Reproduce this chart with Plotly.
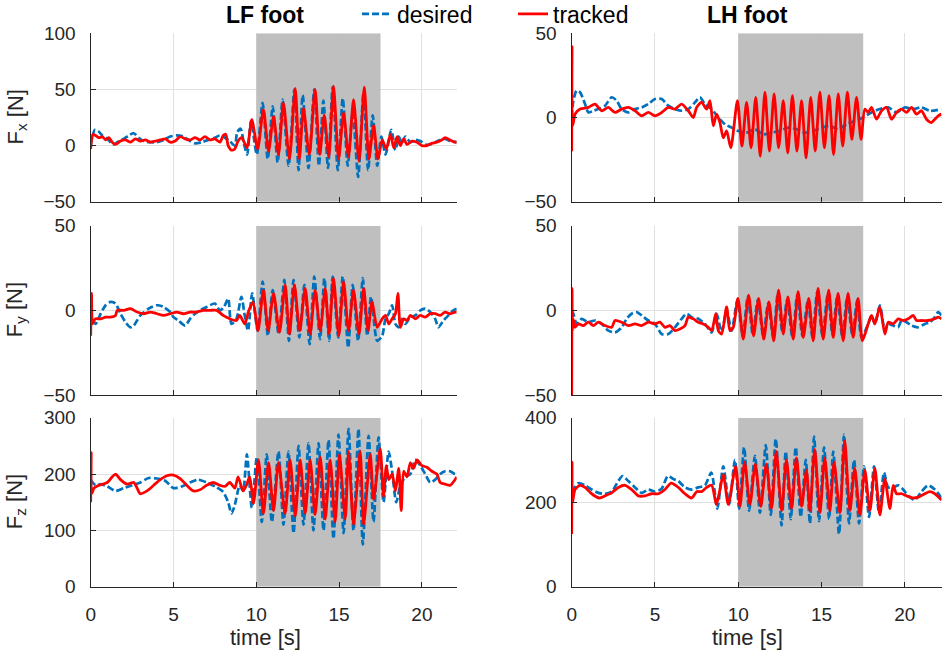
import plotly.graph_objects as go

# ---------------- data (time [s], force [N]) ----------------
shade_start, shade_end = 10, 17.5
x_ticks = [0, 5, 10, 15, 20]

lf_fx_des = [(0.0,0),(0.1,8),(0.25,14),(0.45,13),(0.7,9),(1.0,6),(1.35,1),(1.7,4),(2.0,6),(2.3,9),(2.6,11),(2.9,7),(3.2,4),(3.6,3),(4.0,3),(4.4,5),(4.8,8),(5.2,9),(5.6,8),(5.9,5),(6.3,2),(6.7,3),(7.1,5),(7.5,7),(7.8,9),(8.1,7),(8.4,4),(8.7,0),(8.85,12),(9.05,15),(9.25,2),(9.45,-8),(9.68,22),
             (10.03,-8),(10.38,38),(10.69,-12),(10.99,35),(11.29,-15),(11.59,41),(11.95,-18),(12.30,50),(12.55,-22),(12.80,45),(13.15,-20),(13.50,50),(13.78,-18),(14.05,40),(14.33,-20),(14.61,52),(14.92,-22),(15.22,42),(15.52,-18),(15.82,30),(16.15,-28),(16.47,47),(16.75,-22),(17.03,27),(17.30,-18),
             (17.55,8),(17.8,-8),(18.15,14),(18.4,-4),(18.6,8),(18.8,2),(19.0,8),(19.3,3),(19.6,5),(19.9,4),(20.2,1),(20.5,1),(20.8,3),(21.1,5),(21.4,6),(21.7,4),(22.1,3)]
lf_fx_trk = [(0.0,-3),(0.05,5),(0.15,10),(0.3,9),(0.5,7),(0.7,8),(0.9,5),(1.1,7),(1.3,3),(1.5,1),(1.8,4),(2.1,5),(2.4,3),(2.7,6),(3.0,4),(3.3,5),(3.6,3),(3.9,4),(4.2,5),(4.5,6),(4.8,3),(5.1,4),(5.4,8),(5.7,6),(6.0,5),(6.3,7),(6.6,5),(6.9,8),(7.2,5),(7.5,6),(7.8,3),(8.0,9),(8.15,10),(8.3,0),(8.5,-4),(8.7,-3),(8.9,4),(9.1,7),(9.3,2),(9.45,-2),(9.73,23),
             (10.08,-3),(10.43,32),(10.74,-5),(11.04,26),(11.34,-8),(11.64,38),(12.0,-12),(12.35,51),(12.6,-12),(12.85,33),(13.2,-8),(13.55,50),(13.83,-8),(14.10,27),(14.38,-10),(14.66,53),(14.97,-12),(15.27,29),(15.57,-10),(15.87,41),(16.2,-14),(16.52,52),(16.8,-12),(17.08,18),(17.35,-12),
             (17.6,5),(17.85,-3),(18.1,10),(18.3,-2),(18.5,8),(18.7,0),(18.9,6),(19.1,1),(19.4,4),(19.7,3),(20.0,0),(20.3,0),(20.6,2),(20.9,3),(21.2,5),(21.4,7),(21.7,5),(22.0,3),(22.1,3)]

lh_fx_des = [(0.0,0),(0.1,10),(0.3,16),(0.5,15),(0.8,8),(1.0,3),(1.3,4),(1.6,5),(2.0,7),(2.4,12),(2.7,10),(3.0,5),(3.4,3),(3.8,5),(4.2,6),(4.6,8),(5.0,11),(5.4,11),(5.8,7),(6.2,5),(6.6,4),(7.0,5),(7.4,9),(7.7,12),(8.0,8),(8.4,5),(8.8,0),(9.2,-4),(9.6,-6),(10.0,-8),(10.5,-9),(11.0,-7),(11.5,-10),(12.0,-9),(12.5,-8),(13.0,-6),(13.5,-7),(14.0,-9),(14.5,-8),(15.0,-6),(15.5,-5),(16.0,-7),(16.5,-4),(17.0,-2),(17.5,0),(18.0,3),(18.5,5),(19.0,6),(19.5,3),(20.0,6),(20.5,5),(21.0,6),(21.5,4),(22.2,5)]
lh_fx_trk = [(0.0,-20),(0.02,42),(0.04,-5),(0.1,-3),(0.2,2),(0.5,5),(1.0,6),(1.4,8),(1.8,4),(2.2,6),(2.6,3),(3.0,5),(3.4,6),(3.8,4),(4.2,1),(4.6,3),(5.0,1),(5.4,3),(5.8,6),(6.2,5),(6.6,8),(7.0,4),(7.3,0),(7.5,6),(7.8,9),(8.1,5),(8.3,10),(8.5,-5),(8.7,2),(8.9,-3),(9.1,-12),(9.3,-8),(9.55,-18),
             (9.95,10),(10.22,-17),(10.5,9),(10.77,-18),(11.05,12),(11.32,-23),(11.6,15),(11.87,-20),(12.15,14),(12.42,-18),(12.7,10),(12.97,-21),(13.25,13),(13.52,-20),(13.8,10),(14.07,-24),(14.35,12),(14.62,-20),(14.9,15),(15.17,-18),(15.45,13),(15.72,-22),(16.0,14),(16.27,-17),(16.55,15),(16.82,-13),(17.1,12),(17.37,-13),
             (17.6,5),(17.8,3),(18.0,6),(18.3,-1),(18.6,4),(18.9,6),(19.2,-1),(19.5,3),(19.8,5),(20.1,3),(20.4,6),(20.7,2),(21.0,4),(21.3,-1),(21.6,-3),(21.8,-1),(22.0,1),(22.2,2)]

lf_fy_des = [(0.0,0),(0.1,-5),(0.3,-8),(0.6,-2),(0.9,3),(1.2,5),(1.5,4),(1.8,-2),(2.1,-7),(2.4,-10),(2.6,-9),(2.8,-6),(3.0,-3),(3.5,1),(4.0,3),(4.4,2),(4.8,-1),(5.0,-4),(5.3,-6),(5.7,-9),(6.0,-5),(6.3,-2),(6.6,0),(7.0,2),(7.5,4),(7.8,0),(8.05,2),(8.3,7),(8.5,-8),(8.8,-5),(9.1,8),(9.3,-3),(9.5,-12),(9.75,10),
             (10.08,-12),(10.38,17),(10.7,-15),(10.99,12),(11.35,-14),(11.69,18),(11.97,-18),(12.25,18),(12.6,-16),(12.9,15),(13.22,-20),(13.5,20),(13.85,-17),(14.11,19),(14.4,-18),(14.61,20),(14.95,-16),(15.22,20),(15.55,-22),(15.82,15),(16.15,-18),(16.43,19),(16.7,-15),(16.93,8),(17.3,-18),
             (17.6,-15),(17.8,-5),(18.0,-2),(18.2,3),(18.4,-8),(18.6,-10),(18.8,-5),(19.0,-8),(19.3,-4),(19.6,-3),(19.9,0),(20.2,1),(20.5,-1),(20.8,-5),(21.0,-10),(21.3,-6),(21.6,-3),(21.9,0),(22.1,1)]
lf_fy_trk = [(0.0,-15),(0.05,10),(0.1,-8),(0.2,-6),(0.3,-5),(0.6,-5),(0.9,-4),(1.2,-4),(1.5,-3),(1.6,0),(2.0,0),(2.4,1),(2.8,-1),(3.2,-2),(3.6,-1),(4.0,-2),(4.4,-3),(4.8,-2),(5.2,-1),(5.6,-2),(6.0,-1),(6.4,-1),(6.8,0),(7.2,0),(7.6,0),(8.0,-3),(8.4,-5),(8.8,-6),(9.0,-3),(9.3,-8),(9.55,0),(9.8,5),
             (10.1,-12),(10.43,12),(10.72,-12),(11.04,10),(11.4,-13),(11.74,15),(12.0,-14),(12.3,15),(12.62,-12),(12.95,13),(13.25,-14),(13.55,12),(13.86,-12),(14.16,13),(14.4,-14),(14.66,19),(14.98,-15),(15.27,17),(15.57,-12),(15.87,12),(16.2,-14),(16.48,13),(16.75,-12),(16.98,5),(17.3,-10),
             (17.6,-5),(17.8,-3),(18.0,-8),(18.2,-5),(18.4,-2),(18.55,10),(18.7,-10),(18.9,-5),(19.1,-6),(19.3,-3),(19.6,-5),(19.9,-3),(20.2,-4),(20.5,-2),(20.8,-2),(21.1,-3),(21.4,-1),(21.7,-2),(22.0,-1),(22.1,-1)]

lh_fy_des = [(0.0,0),(0.1,-2),(0.3,-8),(0.6,-5),(1.0,-7),(1.4,-6),(1.8,-8),(2.2,-12),(2.6,-13),(3.0,-10),(3.3,-5),(3.6,-2),(3.9,-1),(4.2,-3),(4.6,-6),(5.0,-8),(5.4,-14),(5.8,-14),(6.2,-10),(6.6,-5),(6.9,-2),(7.2,-4),(7.6,-5),(8.0,-8),(8.4,-13),(8.7,-2),(9.0,-13),(9.3,0),(9.6,-12),
             (9.95,6),(10.27,-15),(10.57,8),(10.87,-14),(11.17,6),(11.5,-15),(11.79,4),(12.1,-16),(12.37,10),(12.65,-13),(12.93,6),(13.25,-16),(13.54,9),(13.85,-15),(14.18,6),(14.45,-16),(14.74,11),(15.05,-15),(15.38,10),(15.65,-14),(15.94,8),(16.25,-16),(16.54,8),(16.85,-15),(17.14,6),(17.4,-16),
             (17.8,-8),(18.0,-3),(18.2,-8),(18.5,3),(18.8,-12),(19.0,-8),(19.3,-9),(19.6,-10),(19.8,-6),(20.1,-7),(20.4,-9),(20.8,-10),(21.2,-8),(21.5,-7),(21.8,-4),(22.0,-1),(22.2,-3)]
lh_fy_trk = [(0.0,-50),(0.02,13),(0.04,-12),(0.08,-5),(0.2,-10),(0.4,-8),(0.7,-9),(1.0,-7),(1.3,-9),(1.6,-7),(2.0,-9),(2.4,-10),(2.6,-6),(3.0,-7),(3.4,-9),(3.8,-8),(4.2,-9),(4.6,-7),(5.0,-8),(5.3,-7),(5.6,-10),(5.9,-9),(6.2,-12),(6.5,-11),(6.8,-9),(7.0,-4),(7.3,-5),(7.6,-7),(7.9,-8),(8.2,-10),(8.4,-12),(8.65,-2),(8.8,-12),(9.0,-14),(9.3,2),(9.5,-12),(9.7,-10),
             (9.98,7),(10.3,-17),(10.62,9),(10.92,-15),(11.22,7),(11.53,-17),(11.84,5),(12.13,-18),(12.42,12),(12.7,-14),(12.98,8),(13.3,-17),(13.59,11),(13.9,-16),(14.23,7),(14.5,-18),(14.79,13),(15.1,-17),(15.43,12),(15.7,-16),(15.99,10),(16.3,-18),(16.59,10),(16.9,-16),(17.19,7),(17.45,-18),
             (17.8,-8),(18.0,-3),(18.2,-8),(18.5,2),(18.8,-14),(19.0,-7),(19.3,-8),(19.6,-5),(19.9,-6),(20.2,-5),(20.5,-3),(20.7,-6),(21.0,-6),(21.4,-6),(21.8,-5),(22.0,-4),(22.2,-5)]

lf_fz_des = [(0.0,190),(0.3,180),(0.6,182),(1.0,178),(1.5,170),(2.0,175),(2.5,180),(3.0,185),(3.5,193),(4.0,192),(4.5,188),(5.0,175),(5.5,178),(6.0,185),(6.5,190),(7.0,185),(7.5,178),(8.0,168),(8.3,150),(8.5,130),(8.7,145),(9.0,180),(9.2,170),(9.43,235),(9.73,140),
             (10.03,230),(10.33,115),(10.63,235),(10.94,115),(11.34,240),(11.64,110),(11.94,240),(12.25,95),(12.55,250),(12.85,110),(13.15,255),(13.45,100),(13.76,255),(14.06,100),(14.36,260),(14.66,85),(14.96,270),(15.27,95),(15.57,280),(15.87,100),(16.17,280),(16.43,75),(16.78,268),(17.08,115),(17.38,265),(17.68,150),(17.99,240),
             (18.2,205),(18.45,150),(18.7,180),(19.0,195),(19.3,200),(19.6,225),(19.9,215),(20.2,200),(20.5,185),(20.8,190),(21.1,200),(21.4,205),(21.7,205),(22.0,200),(22.1,200)]
lf_fz_trk = [(0.0,150),(0.03,238),(0.06,165),(0.2,175),(0.5,180),(1.0,185),(1.3,195),(1.5,200),(1.8,190),(2.2,182),(2.6,185),(2.8,175),(3.0,165),(3.4,170),(3.8,180),(4.2,190),(4.6,197),(5.0,198),(5.4,192),(5.8,180),(6.2,170),(6.6,172),(7.0,180),(7.4,185),(7.8,180),(8.1,178),(8.4,185),(8.7,175),(8.9,195),(9.2,170),(9.4,180),(9.6,195),(9.83,148),
             (10.13,225),(10.43,130),(10.74,220),(11.04,135),(11.34,220),(11.74,130),(12.04,225),(12.35,125),(12.65,225),(12.95,130),(13.25,225),(13.55,128),(13.86,230),(14.16,120),(14.46,225),(14.76,115),(15.02,235),(15.37,120),(15.57,240),(15.87,110),(16.27,240),(16.48,110),(16.88,235),(17.08,155),(17.48,245),(17.68,160),
             (17.85,215),(18.0,190),(18.2,200),(18.4,170),(18.6,210),(18.75,135),(18.9,205),(19.1,195),(19.3,220),(19.5,210),(19.7,225),(20.0,215),(20.3,212),(20.6,205),(20.9,200),(21.1,185),(21.4,182),(21.7,180),(22.0,190),(22.1,195)]

lh_fz_des = [(0.0,200),(0.1,230),(0.4,245),(0.8,240),(1.2,230),(1.6,222),(2.0,220),(2.4,225),(2.8,250),(3.05,262),(3.4,250),(3.8,235),(4.2,222),(4.6,230),(5.0,225),(5.4,232),(5.77,262),(6.1,255),(6.4,250),(6.8,235),(7.2,230),(7.6,235),(8.0,240),(8.38,270),(8.74,185),
             (9.1,285),(9.45,195),(9.8,300),(10.05,185),(10.35,330),(10.65,180),(11.0,310),(11.3,175),(11.65,335),(11.95,170),(12.25,350),(12.6,145),(12.85,320),(13.15,160),(13.45,330),(13.75,165),(14.05,300),(14.3,150),(14.55,355),(14.85,155),(15.15,330),(15.45,160),(15.7,320),(16.05,125),(16.35,360),(16.65,150),(16.95,300),(17.25,150),(17.55,285),(17.85,165),(18.15,285),(18.45,175),(18.75,270),
             (19.0,235),(19.3,235),(19.6,240),(19.9,230),(20.2,215),(20.6,205),(21.0,225),(21.4,240),(21.8,230),(22.2,210)]
lh_fz_trk = [(0.0,125),(0.02,295),(0.05,200),(0.2,230),(0.5,240),(0.8,235),(1.2,220),(1.66,210),(2.0,215),(2.4,222),(2.8,235),(3.2,240),(3.6,230),(4.0,215),(4.4,215),(4.8,220),(5.2,220),(5.6,230),(5.97,245),(6.4,235),(6.8,220),(7.2,210),(7.5,225),(7.8,225),(8.1,235),(8.4,240),(8.68,195),(8.85,220),(9.1,265),(9.4,195),
             (9.84,285),(10.1,190),(10.38,295),(10.7,195),(11.02,290),(11.35,190),(11.68,290),(12.0,185),(12.28,320),(12.6,180),(12.89,300),(13.2,185),(13.49,305),(13.8,190),(14.09,275),(14.3,180),(14.59,325),(14.9,175),(15.19,305),(15.5,180),(15.75,295),(16.1,175),(16.39,345),(16.7,180),(16.99,280),(17.3,170),(17.6,275),(17.9,180),(18.2,280),(18.5,170),(18.8,255),(19.1,185),
             (19.3,240),(19.5,220),(19.8,220),(20.1,215),(20.5,210),(20.8,212),(21.2,220),(21.5,225),(21.8,220),(22.2,205)]

# (desired, tracked, y range, y ticks) per panel, order: row by row, left then right
panels = [
    (lf_fx_des, lf_fx_trk, [-50, 100], [-50, 0, 50, 100]),
    (lh_fx_des, lh_fx_trk, [-50, 50], [-50, 0, 50]),
    (lf_fy_des, lf_fy_trk, [-50, 50], [-50, 0, 50]),
    (lh_fy_des, lh_fy_trk, [-50, 50], [-50, 0, 50]),
    (lf_fz_des, lf_fz_trk, [0, 300], [0, 100, 200, 300]),
    (lh_fz_des, lh_fz_trk, [0, 400], [0, 200, 400]),
]
y_labels = ["F<sub>x</sub> [N]", "F<sub>y</sub> [N]", "F<sub>z</sub> [N]"]
col_titles = ["LF foot", "LH foot"]

# ---------------- layout geometry ----------------
W, H = 942, 655
FONT = "Liberation Sans, Arial, Helvetica, sans-serif"
INK = "#262626"
col_px = [(90.7, 456.7), (571.7, 941.5)]
row_px = [(33.3, 201.7), (225.7, 395.0), (417.7, 586.7)]
x_ranges = [[0, 22.1], [0, 22.2]]
col_center_px = [265, 747.6]

def xd(a, b):
    return [a / W, b / W]

def yd(top, bot):
    return [1 - bot / H, 1 - top / H]

fig = go.Figure()
layout = dict(
    width=W, height=H,
    margin=dict(l=0, r=0, t=0, b=0, autoexpand=False),
    paper_bgcolor="white", plot_bgcolor="white",
    font=dict(family=FONT, color=INK),
    showlegend=True,
    annotations=[],
)

for i, (des, trk, yr, yt) in enumerate(panels):
    r, c = divmod(i, 2)
    n = i + 1
    xa = "x" if n == 1 else f"x{n}"
    ya = "y" if n == 1 else f"y{n}"
    # shaded interval (drawn as a filled trace so it sits above the grid, below the lines)
    fig.add_trace(go.Scatter(
        x=[shade_start, shade_start, shade_end, shade_end, shade_start],
        y=[yr[0], yr[1], yr[1], yr[0], yr[0]],
        mode="lines", fill="toself", fillcolor="#bfbfbf",
        line=dict(width=0, color="#bfbfbf"), hoverinfo="skip",
        showlegend=False, xaxis=xa, yaxis=ya))
    td, vd = zip(*des)
    tt, vt = zip(*trk)
    fig.add_trace(go.Scatter(
        x=list(td), y=list(vd), mode="lines", name="desired",
        line=dict(color="#0072BD", width=2.7, dash="7px,3px",
                  shape="spline", smoothing=0.7),
        xaxis=xa, yaxis=ya, showlegend=(i == 0), legend="legend"))
    fig.add_trace(go.Scatter(
        x=list(tt), y=list(vt), mode="lines", name="tracked",
        line=dict(color="#FF0000", width=2.8, shape="spline", smoothing=0.7),
        xaxis=xa, yaxis=ya, showlegend=(i == 0), legend="legend2"))

    axcommon = dict(
        showgrid=True, gridcolor="#e0e0e0", gridwidth=1,
        showline=True, linecolor=INK, linewidth=1.4,
        ticks="inside", ticklen=5, tickcolor=INK, tickwidth=1.2,
        zeroline=False, tickfont=dict(size=19, color=INK, family=FONT),
        ticklabelstandoff=10,
    )
    xkey = "xaxis" if n == 1 else f"xaxis{n}"
    ykey = "yaxis" if n == 1 else f"yaxis{n}"
    layout[xkey] = dict(axcommon, domain=xd(*col_px[c]), anchor=ya,
                        range=x_ranges[c], tickvals=x_ticks,
                        showticklabels=(r == 2))
    layout[ykey] = dict(axcommon, domain=yd(*row_px[r]), anchor=xa,
                        range=yr, tickvals=yt)

# column titles
for c, title in enumerate(col_titles):
    layout["annotations"].append(dict(
        text=f"<b>{title}</b>", x=col_center_px[c] / W, y=1 - 15 / H,
        xref="paper", yref="paper", xanchor="center", yanchor="middle",
        showarrow=False, font=dict(size=23, color="#000000", family=FONT)))
# x-axis titles
for c in range(2):
    layout["annotations"].append(dict(
        text="time [s]", x=col_center_px[c] / W, y=1 - 637 / H,
        xref="paper", yref="paper", xanchor="center", yanchor="middle",
        showarrow=False, font=dict(size=22, color=INK, family=FONT)))
# y-axis titles
for r, lab in enumerate(y_labels):
    cy = (row_px[r][0] + row_px[r][1]) / 2
    layout["annotations"].append(dict(
        text=lab, x=16 / W, y=1 - cy / H, xref="paper", yref="paper",
        xanchor="center", yanchor="middle", textangle=-90, showarrow=False,
        font=dict(size=22, color=INK, family=FONT)))

legend_common = dict(orientation="h", xref="paper", yref="paper",
                     xanchor="left", yanchor="middle", bgcolor="rgba(0,0,0,0)",
                     font=dict(size=23, color="#000000", family=FONT))
layout["legend"] = dict(legend_common, x=357 / W, y=1 - 14 / H)
layout["legend2"] = dict(legend_common, x=513 / W, y=1 - 14 / H)

fig.update_layout(**layout)
fig.write_html("out.html")
